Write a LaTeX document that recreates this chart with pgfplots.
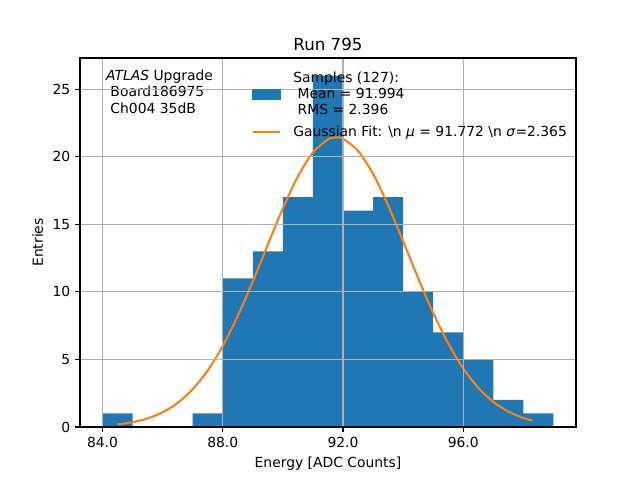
\documentclass[border=0pt]{standalone}
\usepackage{pgfplots}
\pgfplotsset{compat=1.18}
\usepackage{fontspec}
\setmainfont{DejaVu Sans}
\definecolor{mplblue}{HTML}{1F77B4}
\definecolor{mplorange}{HTML}{FF7F0E}
\definecolor{mplgrid}{HTML}{B0B0B0}
\begin{document}
\fontsize{10pt}{12pt}\selectfont
\begin{tikzpicture}
\useasboundingbox (-57.6pt,-38.16pt) rectangle (403.2pt,307.44pt);
\begin{axis}[
  axis on top,
  at={(0,0)}, anchor=south west,
  scale only axis, width=357.12pt, height=265.68pt,
  xmin=83.25, xmax=99.75, ymin=0, ymax=27.3,
  xtick={84,88,92,96}, xticklabels={84.0,88.0,92.0,96.0},
  ytick={0,5,10,15,20,25},
  tick pos=left, tick align=outside, major tick length=3.5pt,
  tick style={black, line width=0.8pt},
  axis line style={line width=0.8pt},
  grid=major, major grid style={mplgrid, line width=0.8pt},
  /pgf/number format/assume math mode=true,
  ticklabel style={font=\fontsize{10pt}{12pt}\selectfont},
  title={Run 795}, title style={font=\fontsize{12pt}{14pt}\selectfont, yshift=-4pt},
  xlabel={Energy [ADC Counts]}, ylabel={Entries},
  label style={font=\fontsize{10pt}{12pt}\selectfont},
  legend style={draw=none, fill=none, at={(0.337,0.978)}, anchor=north west,
    cells={anchor=west, align=left, inner xsep=4pt, inner ysep=2pt}, row sep=2.5pt,
    font=\fontsize{10pt}{11.6pt}\selectfont},
]
\addplot[ybar interval, fill=mplblue, draw=none, forget plot]
  coordinates {
  (84,1) (85,0) (86,0) (87,1) (88,11) (89,13) (90,17) (91,26) (92,16)
  (93,17) (94,10) (95,7) (96,5) (97,2) (98,1) (99,1)
  };
\addlegendimage{legend image code/.code={\fill[mplblue] (0pt,-3.5pt) rectangle (20pt,3.5pt);\path (26.5pt,0pt);}}
\addlegendentry{Samples (127):\\\mbox{ }Mean = 91.994\\\mbox{ }RMS = 2.396}
\addplot[mplorange, line width=1.5pt, smooth,
  legend image code/.code={\draw[mplorange, line width=1.5pt] (0pt,0pt) -- (20pt,0pt);\path (26.5pt,0pt);}]
  coordinates {
  (84.5,0.189) (85,0.355) (85.5,0.636) (86,1.090) (86.5,1.784) (87,2.797)
  (87.5,4.19) (88,6.00) (88.5,8.23) (89,10.78) (89.5,13.50) (90,16.18)
  (90.5,18.54) (91,20.31) (91.5,21.28) (91.772,21.42) (92,21.32) (92.5,20.43)
  (93,18.72) (93.5,16.40) (94,13.74) (94.5,11.01) (95,8.44) (95.5,6.18)
  (96,4.33) (96.5,2.90) (97,1.86) (97.5,1.14) (98,0.668) (98.3,0.47)
  };
\addlegendentry{Gaussian Fit: \textbackslash n \textit{μ} = 91.772 \textbackslash n \textit{σ}=2.365}
\node[anchor=north west, align=left, inner sep=0pt,
  font=\fontsize{10pt}{11.9pt}\selectfont] at (rel axis cs:0.052,0.969)
  {\textit{ATLAS} Upgrade\\\mbox{ }Board186975\\\mbox{ }Ch004 35dB};
\end{axis}
\end{tikzpicture}
\end{document}
